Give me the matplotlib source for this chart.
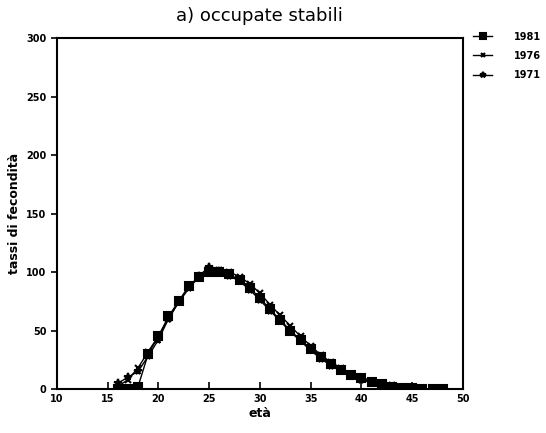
import matplotlib
matplotlib.use("Agg")
import matplotlib.pyplot as plt

ages = list(range(16, 49))
s1981 = [0, 0, 2, 30, 45, 62, 75, 88, 96, 100, 100, 98, 93, 86, 78, 68, 59, 50, 42, 34, 27, 21, 16, 12, 9, 6, 4, 2, 1, 1, 0, 0, 0]
s1976 = [2, 8, 18, 32, 45, 60, 75, 87, 95, 103, 102, 100, 96, 90, 82, 72, 63, 54, 45, 37, 29, 23, 18, 13, 10, 7, 4, 3, 2, 1, 0, 0, 0]
s1971 = [5, 10, 15, 28, 42, 60, 74, 86, 97, 104, 101, 97, 92, 85, 76, 67, 58, 49, 41, 33, 26, 20, 15, 11, 8, 5, 3, 2, 1, 1, 0, 0, 0]
labels = ["1981", "1976", "1971"]
markers = ["s", "x", "*"]
xticks = [10, 15, 20, 25, 30, 35, 40, 45, 50]
yticks = [0, 50, 100, 150, 200, 250, 300]

plt.rcParams['font.family'] = ['DejaVu Sans']
fig = plt.figure(figsize=(5.46, 4.33), dpi=100)
ax = fig.add_axes([0.104, 0.1016, 0.744, 0.8104])
for s, lab, m in zip([s1981, s1976, s1971], labels, markers):
    ax.plot(ages, s, color='black', lw=1.0, marker=m, ms=5.5 if m != 'x' else 5,
            mew=1.5, mfc='black', mec='black', label=lab)
ax.set_xlim(10, 50)
ax.set_ylim(0, 300)
ax.set_xticks(xticks)
ax.set_yticks(yticks)
ax.tick_params(axis='x', direction='in', length=5, labelsize=7, width=1.2)
ax.tick_params(axis='y', direction='out', length=4, labelsize=7, width=1.2)
for t in ax.get_xticklabels() + ax.get_yticklabels():
    t.set_fontweight('bold')
for sp in ax.spines.values():
    sp.set_linewidth(1.5)
ax.set_xlabel("età", fontsize=9, fontweight='bold', labelpad=2)
ax.set_ylabel("tassi di fecondità", fontsize=9, fontweight='bold')
ax.set_title("a) occupate stabili", fontsize=13, pad=12)
leg = ax.legend(loc='upper left', bbox_to_anchor=(1.01, 1.035), frameon=False,
                handlelength=2.0, markerscale=0.7, handletextpad=2.2,
                labelspacing=0.95, borderaxespad=0.2, prop={'weight': 'bold', 'size': 7})
fig.savefig("out.png", dpi=100)
